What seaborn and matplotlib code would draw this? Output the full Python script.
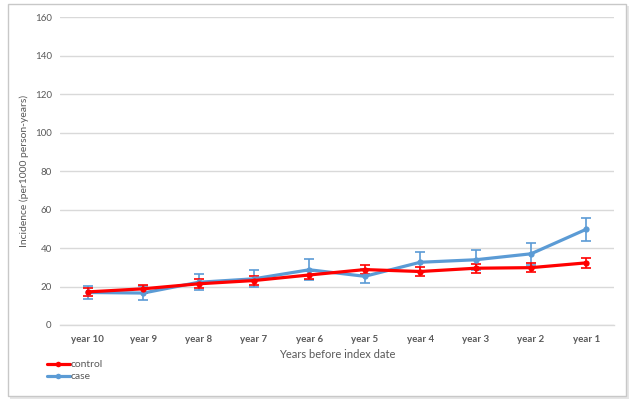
import matplotlib
matplotlib.use("Agg")
import matplotlib.pyplot as plt
from matplotlib.patches import Rectangle
from matplotlib.lines import Line2D
import numpy as np
import pandas as pd
import seaborn as sns

# Incidence per 1000 person-years by year before index date
years = ["year 10", "year 9", "year 8", "year 7", "year 6",
         "year 5", "year 4", "year 3", "year 2", "year 1"]
control = [17.2, 18.8, 21.4, 23.1, 26.0, 28.8, 27.8, 29.5, 29.8, 32.3]
control_err = [2.0, 2.0, 2.3, 2.3, 2.3, 2.3, 2.2, 2.4, 2.3, 2.6]
case = [16.9, 16.6, 22.2, 24.0, 28.7, 25.3, 32.6, 33.9, 37.0, 49.8]
case_err = [3.5, 3.7, 4.2, 4.4, 5.4, 3.6, 5.2, 5.3, 5.7, 5.9]

series = {
    "case": (case, case_err, "#5b9bd5"),
    "control": (control, control_err, "#ff0000"),
}

sns.set_theme(style="white")
plt.rcParams["font.family"] = ["Lato", "DejaVu Sans"]

fig = plt.figure(figsize=(6.29, 3.99), dpi=100)
ax = fig.add_axes([0.0954, 0.1855, 0.881, 0.7715])

pos = np.arange(len(years))
frames = []
for name, (vals, errs, col) in series.items():
    frames.append(pd.DataFrame({"x": pos, "y": vals, "group": name}))
df = pd.concat(frames, ignore_index=True)

palette = {k: v[2] for k, v in series.items()}
sns.lineplot(data=df, x="x", y="y", hue="group", palette=palette,
             hue_order=["case", "control"], marker="o", markersize=4.5,
             markeredgewidth=0, linewidth=2.3, ax=ax, legend=False, zorder=3)

for name, (vals, errs, col) in series.items():
    ax.errorbar(pos, vals, yerr=errs, fmt="none", ecolor=col, elinewidth=1.2,
                capsize=3.5, capthick=1.2, zorder=2.5)

ax.set_xlim(-0.5, len(years) - 0.5)
ax.set_ylim(0, 160)
ax.set_yticks(np.arange(0, 161, 20))
ax.set_xticks(pos)
ax.set_xticklabels(years, fontsize=7, fontweight="bold", color="#595959")
ax.tick_params(axis="y", labelsize=7, labelcolor="#595959", length=0, pad=6)
ax.tick_params(axis="x", length=0, pad=7)
ax.yaxis.grid(True, color="#d9d9d9", linewidth=1)
ax.set_axisbelow(True)
for s in ["top", "right", "left"]:
    ax.spines[s].set_visible(False)
ax.spines["bottom"].set_color("#d9d9d9")
ax.spines["bottom"].set_linewidth(1)

ax.set_xlabel("Years before index date", fontsize=8, color="#595959", labelpad=4)
ax.set_ylabel("Incidence (per1000 person-years)", fontsize=7.5, color="#595959",
              labelpad=4)

# Legend in the lower-left corner
handles = [Line2D([], [], color=series["control"][2], lw=2.3, marker="o", ms=4, mew=0),
           Line2D([], [], color=series["case"][2], lw=2.3, marker="o", ms=4, mew=0)]
fig.legend(handles, ["control", "case"], loc="upper left",
           bbox_to_anchor=(0.068, 0.108), frameon=False, fontsize=7.5,
           handlelength=2.2, handletextpad=0.1, labelspacing=0.25,
           borderaxespad=0, labelcolor="#595959")

# Chart frame with a soft shadow on the right and bottom
fig.patches.append(Rectangle((0.016, 0.0), 0.984, 0.985, transform=fig.transFigure,
                             facecolor="#e6e6e6", edgecolor="none", zorder=-2))
fig.patches.append(Rectangle((0.013, 0.007), 0.982, 0.983, transform=fig.transFigure,
                             facecolor="white", edgecolor="#c8c8c8", linewidth=1,
                             zorder=-1))

fig.savefig("out.png", dpi=100, facecolor="white")
